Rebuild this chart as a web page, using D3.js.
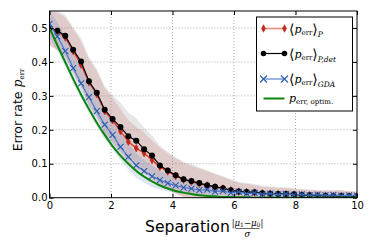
<!DOCTYPE html>
<html><head><meta charset="utf-8">
<script src="https://cdn.jsdelivr.net/npm/d3@7"></script>
<style>html,body{margin:0;padding:0;background:#fff;overflow:hidden}</style>
</head><body>
<svg id="c" width="374" height="249"></svg>
<script>
// separation values: 40 evenly spaced points from 0 to 10
const sep = [0,0.256,0.513,0.769,1.026,1.282,1.538,1.795,2.051,2.308,2.564,2.821,3.077,3.333,3.590,3.846,4.103,4.359,4.615,4.872,5.128,5.385,5.641,5.897,6.154,6.410,6.667,6.923,7.179,7.436,7.692,7.949,8.205,8.462,8.718,8.974,9.231,9.487,9.744,10];
const errP = [0.500,0.490,0.472,0.432,0.392,0.340,0.305,0.255,0.228,0.196,0.165,0.146,0.131,0.111,0.091,0.077,0.064,0.053,0.047,0.041,0.036,0.031,0.027,0.022,0.018,0.017,0.015,0.013,0.012,0.011,0.010,0.009,0.008,0.007,0.006,0.006,0.005,0.005,0.004,0.004];
const errPdet = [0.500,0.492,0.477,0.436,0.401,0.343,0.309,0.259,0.232,0.208,0.181,0.168,0.143,0.124,0.095,0.080,0.066,0.054,0.049,0.043,0.037,0.032,0.028,0.022,0.018,0.017,0.016,0.013,0.012,0.011,0.011,0.010,0.008,0.007,0.006,0.006,0.005,0.005,0.004,0.004];
const errGDA = [0.512,0.475,0.432,0.382,0.337,0.296,0.255,0.215,0.185,0.150,0.120,0.095,0.078,0.063,0.052,0.043,0.036,0.030,0.027,0.022,0.024,0.018,0.020,0.014,0.017,0.012,0.014,0.010,0.012,0.009,0.011,0.008,0.010,0.007,0.009,0.007,0.008,0.006,0.007,0.006];
const errOptim = [0.500,0.449,0.399,0.350,0.304,0.261,0.221,0.185,0.152,0.124,0.100,0.079,0.062,0.048,0.036,0.027,0.020,0.015,0.011,0.007,0.005,0.004,0.002,0.002,0.001,0.001,0.000,0.000,0.000,0.000,0.000,0.000,0.000,0.000,0.000,0.000,0.000,0.000,0.000,0.000];
const stdP = [0.050,0.055,0.060,0.065,0.068,0.068,0.068,0.068,0.066,0.065,0.063,0.062,0.060,0.058,0.056,0.054,0.052,0.050,0.048,0.045,0.042,0.038,0.034,0.030,0.026,0.024,0.022,0.020,0.019,0.018,0.018,0.017,0.016,0.016,0.015,0.015,0.016,0.018,0.015,0.014];
const stdPdet = [0.052,0.058,0.062,0.066,0.070,0.072,0.070,0.070,0.070,0.072,0.070,0.066,0.064,0.060,0.058,0.055,0.053,0.052,0.050,0.047,0.044,0.040,0.036,0.032,0.028,0.026,0.024,0.022,0.021,0.020,0.020,0.018,0.018,0.017,0.016,0.016,0.017,0.017,0.015,0.014];
const stdGDA = [0.040,0.042,0.044,0.045,0.045,0.045,0.044,0.043,0.042,0.040,0.038,0.036,0.034,0.032,0.028,0.025,0.022,0.020,0.018,0.016,0.015,0.014,0.013,0.012,0.012,0.011,0.011,0.010,0.010,0.010,0.010,0.009,0.009,0.009,0.009,0.008,0.008,0.008,0.008,0.008];
const xTicks = [0,2,4,6,8,10];
const yTicks = [0.0,0.1,0.2,0.3,0.4,0.5];

const svg = d3.select("#c");
const L = 49.5, R = 357, T = 11, B = 197.7;
const x = d3.scaleLinear().domain([0,10]).range([L,R]);
const y = d3.scaleLinear().domain([0,0.55]).range([B,T]);

svg.append("defs").append("clipPath").attr("id","clip")
  .append("rect").attr("x",L).attr("y",T).attr("width",R-L).attr("height",B-T);

// grid
const grid = svg.append("g");
xTicks.slice(1,-1).forEach(v => grid.append("line").attr("x1",x(v)).attr("x2",x(v)).attr("y1",T).attr("y2",B)
  .attr("stroke","#999").attr("stroke-width",0.8).attr("stroke-dasharray","1,2"));
yTicks.slice(1).forEach(v => grid.append("line").attr("x1",L).attr("x2",R).attr("y1",y(v)).attr("y2",y(v))
  .attr("stroke","#999").attr("stroke-width",0.8).attr("stroke-dasharray","1,2"));

const plot = svg.append("g").attr("clip-path","url(#clip)");
const band = (m,s) => d3.area().x((d,i)=>x(sep[i])).y0((d,i)=>y(m[i]-s[i])).y1((d,i)=>y(m[i]+s[i]))(sep);
plot.append("path").attr("d",band(errP,stdP)).attr("fill","#d9534f").attr("fill-opacity",0.2);
plot.append("path").attr("d",band(errPdet,stdPdet)).attr("fill","#888").attr("fill-opacity",0.2);
plot.append("path").attr("d",band(errGDA,stdGDA)).attr("fill","#5b82c8").attr("fill-opacity",0.2);

const line = m => d3.line().x((d,i)=>x(sep[i])).y((d,i)=>y(m[i]))(sep);
const diamond = "M0,-3.8L2,0L0,3.8L-2,0Z";
// red P
plot.append("path").attr("d",line(errP)).attr("fill","none").attr("stroke","#e23a26").attr("stroke-width",1.4);
plot.selectAll(".dm").data(errP).enter().append("path").attr("d",diamond)
  .attr("transform",(d,i)=>`translate(${x(sep[i])},${y(d)})`).attr("fill","#c8281c").attr("stroke","#a51a10").attr("stroke-width",0.5);
// black P,det
plot.append("path").attr("d",line(errPdet)).attr("fill","none").attr("stroke","#000").attr("stroke-width",1.2);
plot.selectAll(".bd").data(errPdet).enter().append("circle")
  .attr("cx",(d,i)=>x(sep[i])).attr("cy",d=>y(d)).attr("r",3).attr("fill","#000");
// blue GDA
plot.append("path").attr("d",line(errGDA)).attr("fill","none").attr("stroke","#4a78c8").attr("stroke-width",1.2);
plot.selectAll(".bx").data(errGDA).enter().append("path").attr("d","M-3,-3L3,3M-3,3L3,-3")
  .attr("transform",(d,i)=>`translate(${x(sep[i])},${y(d)})`).attr("stroke","#2a5cb0").attr("stroke-width",1.1);
// green optimal
plot.append("path").attr("d",d3.line().curve(d3.curveMonotoneX).x((d,i)=>x(sep[i])).y((d,i)=>y(errOptim[i]))(sep))
  .attr("fill","none").attr("stroke","#0a870a").attr("stroke-width",2);

// axes
const fs = "DejaVu Sans, sans-serif";
const gx = svg.append("g").attr("transform",`translate(0,${B})`)
  .call(d3.axisBottom(x).tickValues(xTicks).tickFormat(d3.format("d")).tickSizeInner(-4).tickSizeOuter(0).tickPadding(4));
const gy = svg.append("g").attr("transform",`translate(${L},0)`)
  .call(d3.axisLeft(y).tickValues(yTicks).tickFormat(d3.format(".1f")).tickSizeInner(-4).tickSizeOuter(0).tickPadding(2));
const gt = svg.append("g").attr("transform",`translate(0,${T})`)
  .call(d3.axisTop(x).tickValues(xTicks).tickFormat("").tickSizeInner(-4).tickSizeOuter(0));
const gr = svg.append("g").attr("transform",`translate(${R},0)`)
  .call(d3.axisRight(y).tickValues(yTicks).tickFormat("").tickSizeInner(-4).tickSizeOuter(0));
[gx,gy,gt,gr].forEach(g=>{g.select(".domain").remove(); g.selectAll("text").attr("font-family",fs).attr("font-size",10).attr("fill","#000"); g.selectAll("line").attr("stroke","#000");});
svg.append("rect").attr("x",L).attr("y",T).attr("width",R-L).attr("height",B-T).attr("fill","none").attr("stroke","#000").attr("stroke-width",1);

// x label
const xl = svg.append("g");
xl.append("text").attr("x",145).attr("y",232).attr("font-family",fs).attr("font-size",15.6).text("Separation");
const num = xl.append("text").attr("x",247.5).attr("y",225.5).attr("text-anchor","middle").attr("font-family","DejaVu Serif, serif").attr("font-size",8.5);
num.append("tspan").text("|");
num.append("tspan").attr("font-style","italic").text("μ");
num.append("tspan").attr("font-size",6).attr("dy",1.5).text("1");
num.append("tspan").attr("dy",-1.5).text("−");
num.append("tspan").attr("font-style","italic").text("μ");
num.append("tspan").attr("font-size",6).attr("dy",1.5).text("0");
num.append("tspan").attr("dy",-1.5).text("|");
xl.append("line").attr("x1",235.5).attr("x2",259.5).attr("y1",228.5).attr("y2",228.5).attr("stroke","#000").attr("stroke-width",0.6);
xl.append("text").attr("x",247.5).attr("y",236.5).attr("text-anchor","middle").attr("font-family","DejaVu Serif, serif").attr("font-style","italic").attr("font-size",8.5).text("σ");

// y label
const yl = svg.append("text").attr("transform","translate(21.5,110) rotate(-90)").attr("text-anchor","middle").attr("font-family",fs).attr("font-size",12.5);
yl.append("tspan").text("Error rate ");
yl.append("tspan").attr("font-family","DejaVu Serif, serif").attr("font-style","italic").text("p");
yl.append("tspan").attr("font-family","DejaVu Serif, serif").attr("font-size",7).attr("dy",2).text("err");

// legend
const lg = svg.append("g");
lg.append("rect").attr("x",256.5).attr("y",17).attr("width",96).attr("height",94).attr("fill","#fff").attr("stroke","#000").attr("stroke-width",1);
const rows = [28.5,53.5,79,98.5];
const sx1 = 263.5, sx2 = 284.5;
// row 1
lg.append("line").attr("x1",sx1).attr("x2",sx2).attr("y1",rows[0]).attr("y2",rows[0]).attr("stroke","#e8897c").attr("stroke-width",1.6);
[sx1,sx2].forEach(v=>lg.append("path").attr("d",diamond).attr("transform",`translate(${v},${rows[0]})`).attr("fill","#c8281c").attr("stroke","#a51a10").attr("stroke-width",0.5));
// row 2
lg.append("line").attr("x1",sx1).attr("x2",sx2).attr("y1",rows[1]).attr("y2",rows[1]).attr("stroke","#000").attr("stroke-width",1.2);
[sx1,sx2].forEach(v=>lg.append("circle").attr("cx",v).attr("cy",rows[1]).attr("r",2.8).attr("fill","#000"));
// row 3
lg.append("line").attr("x1",sx1).attr("x2",sx2).attr("y1",rows[2]).attr("y2",rows[2]).attr("stroke","#7fa2dc").attr("stroke-width",1.6);
[sx1,sx2].forEach(v=>lg.append("path").attr("d","M-3.5,-3.5L3.5,3.5M-3.5,3.5L3.5,-3.5").attr("transform",`translate(${v},${rows[2]})`).attr("stroke","#2a5cb0").attr("stroke-width",1.1));
// row 4
lg.append("line").attr("x1",sx1).attr("x2",sx2).attr("y1",rows[3]).attr("y2",rows[3]).attr("stroke","#0a870a").attr("stroke-width",2);

const serif = "DejaVu Serif, serif";
function bracketLabel(yy, sub){
  const t = lg.append("text").attr("x",289).attr("y",yy+4).attr("font-family",serif).attr("font-size",11);
  t.append("tspan").attr("font-size",14).attr("dy",1).text("⟨");
  t.append("tspan").attr("font-style","italic").attr("dy",-1).text("p");
  t.append("tspan").attr("font-size",7).attr("dy",2).text("err");
  t.append("tspan").attr("font-size",14).attr("dy",-1).text("⟩");
  t.append("tspan").attr("font-size",7.5).attr("font-style","italic").attr("dy",3).text(sub);
}
bracketLabel(rows[0],"P");
bracketLabel(rows[1],"P,det");
bracketLabel(rows[2],"GDA");
const t4 = lg.append("text").attr("x",289).attr("y",rows[3]+3.5).attr("font-family",serif).attr("font-size",11);
t4.append("tspan").attr("font-style","italic").text("p");
t4.append("tspan").attr("font-size",7).attr("dy",2).text("err, optim.");
</script>
</body></html>
